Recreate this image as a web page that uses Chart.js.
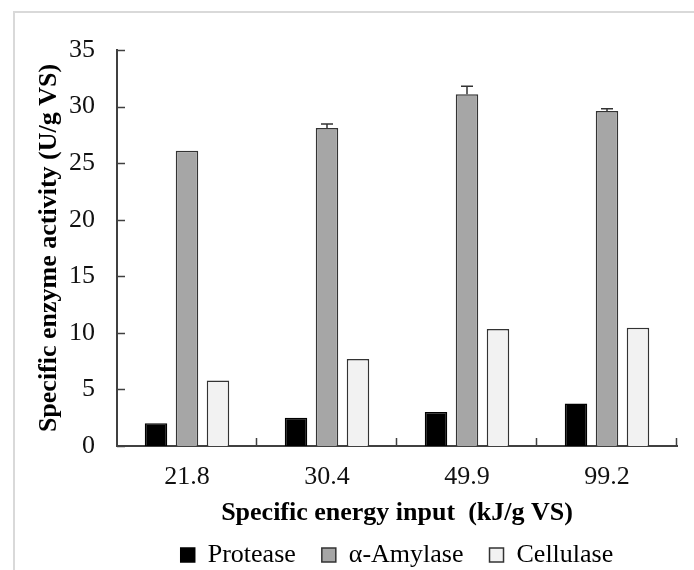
<!DOCTYPE html>
<html>
<head>
<meta charset="utf-8">
<script src="https://cdn.jsdelivr.net/npm/chart.js@4"></script>
<style>
  html, body { margin: 0; padding: 0; background: #fff; overflow: hidden; }
  #frame {
    position: absolute; left: 13px; top: 11px; width: 700px; height: 600px;
    border-left: 2px solid #d9d9d9; border-top: 2px solid #d9d9d9;
  }
  #chart { position: absolute; left: 0; top: 0; }
</style>
</head>
<body>
<div id="frame"></div>
<canvas id="chart" width="694" height="578"></canvas>
<script>
// values
const energyInputs = ["21.8", "30.4", "49.9", "99.2"];
const protease = [2.0, 2.5, 3.0, 3.75];
const amylase = [26.1, 28.1, 31.1, 29.6];
const amylaseErr = [0, 0.35, 0.7, 0.2];
const cellulase = [5.8, 7.7, 10.35, 10.45];

const serif = "'Liberation Serif', 'Times New Roman', serif";
const axisColor = "#404040";

// inward tick marks + error bars
const extras = {
  id: "extras",
  afterDatasetsDraw(chart) {
    const ctx = chart.ctx;
    const x = chart.scales.x;
    const y = chart.scales.y;
    const area = chart.chartArea;
    ctx.save();
    ctx.strokeStyle = axisColor;
    ctx.lineWidth = 1.5;
    ctx.beginPath();
    for (let v = 0; v <= 35; v += 5) {
      const py = Math.round(y.getPixelForValue(v)) + 0.5;
      ctx.moveTo(area.left, py);
      ctx.lineTo(area.left + 8, py);
    }
    const half = (x.getPixelForTick(1) - x.getPixelForTick(0)) / 2;
    for (let i = 0; i < energyInputs.length; i++) {
      const px = Math.round(x.getPixelForTick(i) + half) - 0.5;
      ctx.moveTo(px, area.bottom);
      ctx.lineTo(px, area.bottom - 8);
    }
    ctx.stroke();

    // error bars on α-Amylase
    const meta = chart.getDatasetMeta(1);
    ctx.strokeStyle = "#333";
    ctx.beginPath();
    meta.data.forEach((bar, i) => {
      if (!amylaseErr[i]) return;
      const top = y.getPixelForValue(amylase[i] + amylaseErr[i]);
      ctx.moveTo(bar.x, bar.y);
      ctx.lineTo(bar.x, top);
      ctx.moveTo(bar.x - 6, top);
      ctx.lineTo(bar.x + 6, top);
    });
    ctx.stroke();
    ctx.restore();
  }
};

const ctx = document.getElementById("chart").getContext("2d");
new Chart(ctx, {
  type: "bar",
  data: {
    labels: energyInputs,
    datasets: [
      { label: "Protease", data: protease, backgroundColor: "#000", borderColor: "#000", borderWidth: 1.5 },
      { label: "α-Amylase", data: amylase, backgroundColor: "#a6a6a6", borderColor: "#333", borderWidth: 1.5 },
      { label: "Cellulase", data: cellulase, backgroundColor: "#f2f2f2", borderColor: "#333", borderWidth: 1.5 }
    ]
  },
  options: {
    responsive: false,
    animation: false,
    devicePixelRatio: 1,
    categoryPercentage: 0.664,
    barPercentage: 0.726,
    layout: { padding: { top: 50, left: 0, right: 17, bottom: 0 } },
    plugins: {
      tooltip: { enabled: false },
      legend: {
        position: "bottom",
        fullSize: false,
        labels: {
          color: "#000",
          font: { family: serif, size: 26 },
          boxWidth: 14,
          boxHeight: 14,
          padding: 26
        }
      }
    },
    scales: {
      x: {
        grid: { display: false, drawTicks: false },
        border: { display: true, color: axisColor, width: 2 },
        ticks: { color: "#111", font: { family: serif, size: 26 }, padding: 16 },
        title: {
          display: true,
          text: "Specific energy input  (kJ/g VS)",
          color: "#000",
          font: { family: serif, size: 26, weight: "bold" },
          padding: { top: 0, bottom: -12.6 }
        },
        afterFit: s => { s.height = 70; }
      },
      y: {
        min: 0,
        max: 35,
        grid: { display: false, drawTicks: false },
        border: { display: true, color: axisColor, width: 2 },
        ticks: { stepSize: 5, color: "#111", font: { family: serif, size: 26 }, padding: 22 },
        title: {
          display: true,
          text: "Specific enzyme activity (U/g VS)",
          color: "#000",
          font: { family: serif, size: 26, weight: "bold" },
          padding: { top: 34, bottom: 0 }
        },
        afterFit: s => { s.width = 117; }
      }
    }
  },
  plugins: [extras]
});
</script>
</body>
</html>
